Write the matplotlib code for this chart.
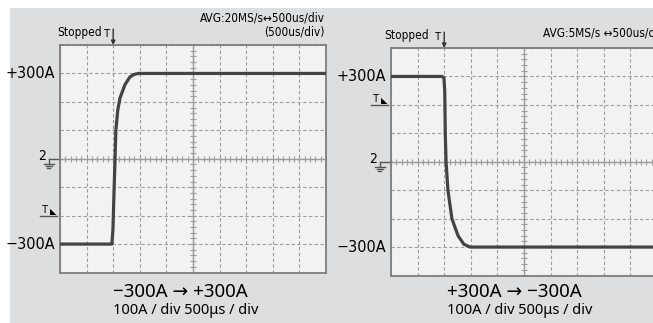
import numpy as np
import matplotlib.pyplot as plt
from matplotlib.patches import Rectangle

# scope traces (time in us from left edge, current in A)
t_up = [0, 975, 995, 1010, 1035, 1050, 1085, 1130, 1220, 1315, 1400, 1475, 5000]
i_up = [-300, -300, -250, -150, 0, 100, 170, 215, 260, 288, 297, 300, 300]
t_dn = [0, 960, 995, 1010, 1020, 1035, 1070, 1145, 1260, 1370, 1485, 5000]
i_dn = [300, 300, 295, 250, 100, 0, -100, -200, -260, -290, -300, -300]

top_left = ["AVG:20MS/s\u2194500us/div", "(500us/div)"]
top_right = "AVG:5MS/s \u2194500us/div"
cap_left = ["\u2212300A \u2192 +300A", "100A / div 500\u03bcs / div"]
cap_right = ["+300A \u2192 \u2212300A", "100A / div 500\u03bcs / div"]

narrow = dict(family='DejaVu Sans', fontstretch='condensed')
trace_col = '#434343'
grid_col = '#9c9c9c'

fig = plt.figure(figsize=(6.53, 3.23), dpi=100)
fig.patches.append(Rectangle((10/653, 0), 1, 315/323, transform=fig.transFigure,
                             facecolor='#dddedf', edgecolor='none', zorder=-10))


def scope(ax, t, i, trig_level, trig_t, stop_x):
    ax.set_facecolor('#f2f2f2')
    ax.set_xlim(0, 5000)
    ax.set_ylim(-400, 400)
    ax.set_xticks(np.arange(0, 5001, 500))
    ax.set_yticks(np.arange(-400, 401, 100))
    ax.tick_params(length=0, labelbottom=False, labelleft=False)
    ax.grid(True, color=grid_col, lw=0.8, dashes=(3, 2.2))
    for s in ax.spines.values():
        s.set_color('#7d7d7d')
        s.set_linewidth(1.3)
    # center cross with small ticks
    ax.axhline(0, color=grid_col, lw=1)
    ax.axvline(2500, color=grid_col, lw=1)
    ax.plot(np.arange(0, 5001, 100), np.zeros(51), ls='none', marker='|', ms=4,
            color=grid_col, mew=0.8)
    ax.plot(np.full(41, 2500), np.arange(-400, 401, 20), ls='none', marker='_', ms=4,
            color=grid_col, mew=0.8)
    ax.plot(t, i, color=trace_col, lw=2.3, solid_joinstyle='round', zorder=5)

    ty = ax.get_yaxis_transform()
    ax.text(-0.019, 300, "+300A", transform=ty, ha='right', va='center',
            fontsize=11.5, **narrow)
    ax.text(-0.019, -300, "\u2212300A", transform=ty, ha='right', va='center',
            fontsize=11.5, **narrow)
    # ground marker
    ax.text(-0.052, 8, "2", transform=ty, ha='right', va='center',
            fontsize=10, **narrow)
    ax.plot([-0.042, 0], [0, 0], transform=ty, color='#555555', lw=1, clip_on=False)
    ax.plot([-0.042, -0.042], [0, -18], transform=ty, color='#555555', lw=1, clip_on=False)
    for k, w in enumerate([0.018, 0.012, 0.006]):
        ax.plot([-0.042 - w, -0.042 + w], [-18 - 7*k, -18 - 7*k], transform=ty,
                color='#555555', lw=1, clip_on=False)
    # trigger level marker
    ax.text(-0.058, trig_level + 3, "T", transform=ty, ha='center', va='bottom',
            fontsize=8, **narrow)
    ax.plot([-0.075, -0.012], [trig_level, trig_level], transform=ty,
            color='#555555', lw=1, clip_on=False)
    ax.text(-0.012, trig_level - 2, "\u25e3", transform=ty, ha='right', va='bottom',
            fontsize=6, family='DejaVu Sans')
    # trigger time marker
    tx = ax.get_xaxis_transform()
    ax.text(trig_t - 50, 1.025, "T", transform=tx, ha='right', va='bottom',
            fontsize=8, **narrow)
    ax.annotate("", xy=(trig_t, 1.0), xytext=(trig_t, 1.07), xycoords=tx, textcoords=tx,
                arrowprops=dict(arrowstyle='-|>', color='#333333', lw=1,
                                mutation_scale=6, shrinkA=0, shrinkB=0))
    ax.text(stop_x, 1.055, "Stopped", transform=ax.transAxes, ha='left', va='center',
            fontsize=8.5, **narrow)


ax1 = fig.add_axes([60/653, 50.5/323, 266/653, 227.5/323])
scope(ax1, t_up, i_up, -200, 1000, -0.011)
ax1.text(0.996, 1.12, top_left[0], transform=ax1.transAxes, ha='right', va='center',
         fontsize=8.5, **narrow)
ax1.text(0.996, 1.055, top_left[1], transform=ax1.transAxes, ha='right', va='center',
         fontsize=8.5, **narrow)

ax2 = fig.add_axes([391/653, 47.5/323, 266/653, 227.5/323])
scope(ax2, t_dn, i_dn, 200, 1000, -0.026)
ax2.text(0.571, 1.066, top_right, transform=ax2.transAxes, ha='left', va='center',
         fontsize=8.5, **narrow)

for x0, cap in [(113, cap_left), (447, cap_right)]:
    fig.text(x0/653, (323-292)/323, cap[0], ha='left', va='center', fontsize=13.5,
             family=['Noto Sans', 'DejaVu Sans'])
    fig.text(x0/653, (323-311)/323, cap[1], ha='left', va='center', fontsize=10.5,
             family=['Noto Sans', 'DejaVu Sans'])

fig.savefig('out.png', dpi=100)
